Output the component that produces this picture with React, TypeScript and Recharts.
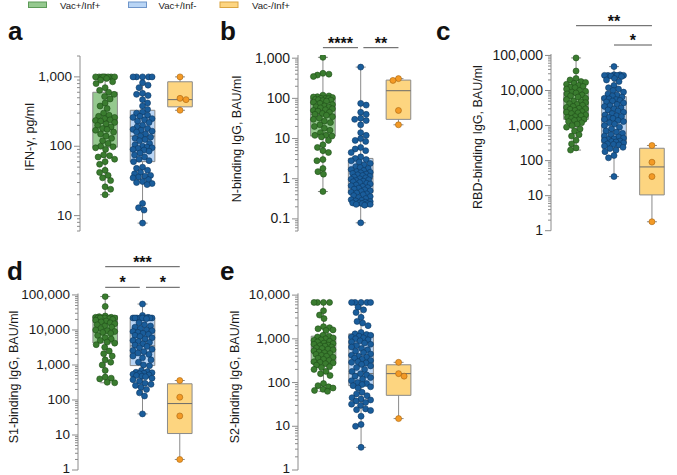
import React from 'react';
import { ComposedChart, XAxis, YAxis, Scatter, ReferenceArea, ReferenceLine } from 'recharts';

const W = 677;
const H = 475;
const FONT = "'Liberation Sans', Arial, Helvetica, sans-serif";
const AX = '#8c8c8c';

const groupNames = ['Vac+/Inf+', 'Vac+/Inf-', 'Vac-/Inf+'];
const dotFill = ['#3a7c2f', '#1a5d9b', '#f39a26'];
const dotStroke = ['#1f4d18', '#0d3762', '#a8650f'];
const boxFill = ['#95c98f', '#b9d5f5', '#fdd580'];
const legendStroke = ['#5d9a58', '#6f95c9', '#d9a441'];

// ---- a: IFN-gamma ----
const ifnGreen = [1000, 1000, 1000, 1000, 1000, 1000, 1000, 1000, 950, 900, 850, 800, 700, 640, 600, 560, 520, 480, 420, 380, 350, 300, 280, 270, 260, 250, 240, 235, 230, 220, 210, 200, 190, 180, 175, 170, 160, 150, 140, 130, 120, 110, 100, 98, 95, 90, 75, 73, 70, 65, 60, 55, 45, 42, 38, 35, 32, 26, 24, 20];
const ifnBlue = [1000, 1000, 1000, 1000, 1000, 820, 760, 700, 580, 560, 540, 470, 420, 380, 340, 310, 300, 280, 270, 260, 250, 240, 230, 220, 200, 190, 180, 175, 170, 165, 160, 150, 140, 135, 130, 125, 120, 110, 105, 100, 97, 95, 93, 90, 88, 85, 80, 75, 70, 65, 62, 60, 50, 48, 45, 42, 40, 38, 37, 36, 35, 33, 31, 30, 29, 28, 15, 13, 12, 7.8];
const ifnOrange = [1000, 490, 470, 330];
// [min, q1, median, q3, max]
const ifnBox = [[20, 97, 234, 600, 1000], [7.8, 60, 140, 330, 1000], [330, 370, 470, 850, 1000]];

// ---- b: N-binding IgG ----
const nGreen = [1050, 420, 400, 380, 350, 120, 115, 110, 108, 105, 100, 100, 98, 95, 92, 90, 88, 85, 80, 75, 70, 65, 62, 60, 58, 55, 52, 50, 48, 45, 42, 40, 38, 35, 32, 30, 27, 25, 22, 20, 18, 16, 14, 12, 12, 11.5, 11, 9, 7, 6, 5, 4.5, 3, 2.8, 1.8, 1.5, 1.3, 0.48];
const nBlue = [600, 75, 68, 45, 40, 32, 30, 28, 22, 14, 12, 10, 9, 8.5, 6, 5.5, 5, 4.5, 3.5, 3.2, 3, 2.8, 2.6, 2.4, 2.2, 2, 1.9, 1.8, 1.7, 1.6, 1.5, 1.45, 1.4, 1.35, 1.3, 1.25, 1.2, 1.15, 1.1, 1.05, 1.0, 0.97, 0.94, 0.9, 0.87, 0.84, 0.8, 0.77, 0.74, 0.7, 0.67, 0.64, 0.6, 0.58, 0.55, 0.53, 0.5, 0.48, 0.46, 0.44, 0.42, 0.4, 0.38, 0.36, 0.34, 0.32, 0.3, 0.29, 0.28, 0.27, 0.26, 0.25, 0.25, 0.24, 0.24, 0.23, 0.23, 0.22, 0.08];
const nOrange = [310, 280, 50, 22];
const nBox = [[0.48, 11.5, 40, 100, 1050], [0.08, 0.45, 1.0, 3.2, 600], [22, 30, 155, 285, 310]];

// ---- c: RBD-binding IgG ----
const rbdGreen = [85000, 36000, 22000, 20000, 18000, 17000, 16000, 15000, 14000, 13000, 12500, 12000, 11000, 10000, 9500, 9000, 8500, 8000, 7500, 7000, 6500, 6000, 5500, 5000, 4800, 4500, 4200, 4000, 3800, 3500, 3300, 3100, 3000, 2900, 2700, 2500, 2400, 2300, 2200, 2000, 1900, 1800, 1700, 1600, 1500, 1450, 1400, 1300, 1200, 1100, 1000, 900, 800, 700, 550, 500, 380, 300, 230, 200];
const rbdBlue = [48000, 28000, 28000, 27000, 27000, 27000, 27000, 26000, 25000, 22000, 20000, 18000, 14000, 12000, 11000, 10000, 9000, 8000, 7500, 7000, 6500, 6000, 5800, 5500, 5200, 5000, 4700, 4400, 4000, 3700, 3500, 3200, 3000, 2800, 2600, 2400, 2200, 2000, 1900, 1800, 1700, 1600, 1500, 1400, 1300, 1200, 1100, 1000, 900, 800, 700, 650, 600, 550, 500, 470, 440, 420, 400, 380, 360, 350, 340, 320, 300, 290, 280, 260, 240, 220, 200, 180, 140, 120, 35];
const rbdOrange = [270, 90, 35, 1.8];
const rbdBox = [[200, 1500, 3100, 9000, 85000], [35, 320, 1450, 6700, 48000], [1.8, 10.5, 66, 225, 270]];

// ---- d: S1-binding IgG ----
const s1Green = [90000, 47000, 25000, 24000, 23000, 23000, 22000, 22000, 22000, 22000, 22000, 22000, 21000, 20000, 19000, 18000, 17000, 16000, 15000, 14000, 13000, 12000, 11000, 10000, 9500, 9000, 8500, 8000, 7000, 6000, 5500, 5000, 4500, 4200, 3800, 3200, 2500, 2100, 1800, 1400, 1200, 1000, 700, 450, 420, 400, 320, 310];
const s1Blue = [55000, 26000, 23000, 22000, 22000, 22000, 22000, 22000, 22000, 22000, 22000, 21000, 16000, 14000, 13000, 12000, 11000, 10000, 9500, 9000, 8500, 8000, 7500, 7000, 6500, 6000, 5500, 5000, 4700, 4400, 4000, 3700, 3400, 3100, 2800, 2600, 2400, 2200, 2000, 1800, 1600, 1400, 1200, 1000, 950, 700, 650, 620, 600, 580, 560, 540, 520, 500, 480, 460, 420, 380, 340, 300, 280, 260, 230, 200, 160, 130, 40];
const s1Orange = [360, 120, 35, 2];
const s1Box = [[310, 4250, 17000, 25700, 90000], [40, 960, 3500, 22000, 55000], [2, 11, 79, 290, 360]];

// ---- e: S2-binding IgG ----
const s2Green = [6800, 6800, 6800, 6800, 4400, 3500, 2900, 1900, 1800, 1700, 1600, 1550, 1200, 1150, 1100, 1050, 1000, 950, 920, 880, 850, 800, 780, 750, 720, 700, 680, 650, 620, 600, 580, 560, 530, 500, 480, 460, 440, 420, 400, 380, 360, 340, 320, 300, 290, 280, 270, 250, 230, 220, 200, 180, 160, 145, 95, 85, 80, 75, 70, 66, 63];
const s2Blue = [6800, 6800, 6800, 6800, 6800, 5300, 4600, 4000, 3100, 2500, 2300, 2000, 1400, 1300, 1250, 1200, 1150, 1100, 1050, 1000, 950, 900, 850, 800, 750, 700, 650, 600, 560, 520, 480, 450, 420, 400, 380, 360, 340, 320, 300, 290, 280, 260, 240, 220, 200, 180, 160, 150, 140, 130, 120, 110, 100, 95, 90, 85, 80, 75, 60, 55, 50, 45, 42, 40, 38, 35, 32, 30, 25, 24, 23, 17, 11, 10, 3.3];
const s2Orange = [290, 160, 140, 15];
const s2Box = [[63, 270, 620, 1150, 6800], [3.3, 85, 160, 1300, 6800], [15, 51, 160, 255, 290]];

type PanelCfg = {
  key: string;
  letter: string;
  letterX: number;
  letterY: number;
  label: string;
  labelX: number;
  labelY: number;
  axisX: number;
  right: number;
  top: number;
  bottom: number;
  domain: [number, number];
  xDomain: [number, number];
  fs: number;
  series: number[][];
  box: number[][];
  sig: { from: number; to: number; y: number; text: string; gl: number; gr: number }[];
};

const panels: PanelCfg[] = [
  { key: 'a', letter: 'a', letterX: 8, letterY: 40, label: 'IFN-γ, pg/ml', labelX: 30, labelY: 137, axisX: 80, right: 204, top: 56, bottom: 231, domain: [6, 2000], xDomain: [0.33, 3.64], fs: 13.5, series: [ifnGreen, ifnBlue, ifnOrange], box: ifnBox, sig: [] },
  { key: 'b', letter: 'b', letterX: 220, letterY: 40, label: 'N-binding IgG, BAU/ml', labelX: 236.5, labelY: 139, axisX: 298, right: 423, top: 55, bottom: 231, domain: [0.05, 1200], xDomain: [0.34, 3.65], fs: 14, series: [nGreen, nBlue, nOrange], box: nBox,
    sig: [ { from: 1, to: 2, y: 47.7, text: '****', gl: 0, gr: 2.7 }, { from: 2, to: 3, y: 47.7, text: '**', gl: 2.7, gr: 0 } ] },
  { key: 'c', letter: 'c', letterX: 436, letterY: 40, label: 'RBD-binding IgG, BAU/ml', labelX: 478, labelY: 137, axisX: 551, right: 677, top: 54, bottom: 230.7, domain: [1, 110000], xDomain: [0.34, 3.66], fs: 14, series: [rbdGreen, rbdBlue, rbdOrange], box: rbdBox,
    sig: [ { from: 1, to: 3, y: 25.7, text: '**', gl: 0, gr: 0 }, { from: 2, to: 3, y: 45, text: '*', gl: 0, gr: 0 } ] },
  { key: 'd', letter: 'd', letterX: 7, letterY: 280, label: 'S1-binding IgG, BAU/ml', labelX: 14, labelY: 377, axisX: 78, right: 204, top: 293.5, bottom: 470, domain: [1, 110000], xDomain: [0.27, 3.65], fs: 13.5, series: [s1Green, s1Blue, s1Orange], box: s1Box,
    sig: [ { from: 1, to: 3, y: 266.7, text: '***', gl: 0, gr: 0 }, { from: 1, to: 2, y: 287.3, text: '*', gl: 0, gr: 2.7 }, { from: 2, to: 3, y: 287.3, text: '*', gl: 3.5, gr: 0 } ] },
  { key: 'e', letter: 'e', letterX: 220, letterY: 280, label: 'S2-binding IgG, BAU/ml', labelX: 235, labelY: 377, axisX: 298, right: 423, top: 293.3, bottom: 470, domain: [1, 11000], xDomain: [0.32, 3.65], fs: 13.5, series: [s2Green, s2Blue, s2Orange], box: s2Box, sig: [] },
];

const R = 3.0;
const SWARM_HALF_PX = 9.5;
const BOX_HALF_PX = 12.3;
const CAP_HALF_PX = 5;
const YW = 60;

function isMajor(v: number) {
  const l = Math.log10(v);
  return Math.abs(l - Math.round(l)) < 1e-6;
}

function makeTicks(domain: [number, number]) {
  const out: number[] = [];
  const d0 = Math.floor(Math.log10(domain[0]));
  const d1 = Math.ceil(Math.log10(domain[1]));
  for (let d = d0; d <= d1; d++) {
    for (let k = 1; k <= 9; k++) {
      const v = parseFloat((k * Math.pow(10, d)).toPrecision(6));
      if (v >= domain[0] * 0.9999 && v <= domain[1] * 1.0001) out.push(v);
    }
  }
  return out;
}

function fmt(v: number) {
  if (v < 1) return String(v);
  return Math.round(v).toLocaleString('en-US');
}

function swarm(values: number[], yPx: (v: number) => number, r: number, maxHalf: number): number[] {
  const idx = values.map((_, i) => i).sort((a, b) => values[b] - values[a]);
  const placed: { x: number; y: number }[] = [];
  const offs = new Array(values.length).fill(0);
  const d = 2 * r * 0.95;
  const step = 0.5;
  idx.forEach((i, n) => {
    const y = yPx(values[i]);
    let best = 0;
    let bestScore = -Infinity;
    let found = false;
    const kmax = Math.ceil(maxHalf / step);
    for (let k = 0; k <= kmax && !found; k++) {
      const sides = k === 0 ? [1] : n % 2 === 0 ? [1, -1] : [-1, 1];
      for (const s of sides) {
        const x = s * k * step;
        let minD = Infinity;
        for (const p of placed) {
          if (Math.abs(p.y - y) >= d) continue;
          const dd = Math.hypot(p.x - x, p.y - y);
          if (dd < minD) minD = dd;
        }
        if (minD >= d) {
          best = x;
          found = true;
          break;
        }
        if (minD > bestScore + 0.01) {
          bestScore = minD;
          best = x;
        }
      }
    }
    placed.push({ x: best, y });
    offs[i] = best;
  });
  return offs;
}

const LogTick = (props: any) => {
  const { y, payload, axisX, fs } = props;
  const v = payload.value;
  const major = isMajor(v);
  const ty = y > H - 8 ? y - 2 : y - 0.5;
  return (
    <g>
      <line x1={axisX - (major ? 6 : 3)} x2={axisX} y1={y} y2={y} stroke={AX} strokeWidth={1} />
      {major && (
        <text x={axisX - 8} y={ty} textAnchor="end" dominantBaseline="central" fontSize={fs} fontFamily={FONT} fill="#1a1a1a">
          {fmt(v)}
        </text>
      )}
    </g>
  );
};

function Panel({ cfg }: { cfg: PanelCfg }) {
  const { axisX, right, top, bottom, domain, xDomain } = cfg;
  const l0 = Math.log10(domain[0]);
  const l1 = Math.log10(domain[1]);
  const yPx = (v: number) => bottom - ((Math.log10(v) - l0) / (l1 - l0)) * (bottom - top);
  const pxPerX = (right - axisX) / (xDomain[1] - xDomain[0]);
  const hw = BOX_HALF_PX / pxPerX;
  const cw = CAP_HALF_PX / pxPerX;
  const ticks = makeTicks(domain);

  const scatterData = cfg.series.map((vals, g) => {
    const offs = swarm(vals, yPx, R, SWARM_HALF_PX);
    return vals.map((v, i) => ({ x: g + 1 + offs[i] / pxPerX, y: v }));
  });

  const boxes = cfg.box.map((b, g) => {
    const cx = g + 1;
    const [mn, q1, med, q3, mx] = b;
    return { cx, mn, q1, med, q3, mx };
  });

  return (
    <div style={{ position: 'absolute', left: 0, top: 0 }}>
      <ComposedChart width={W} height={H} margin={{ left: axisX - YW, top, right: W - right, bottom: H - bottom }}>
        <XAxis type="number" dataKey="x" domain={xDomain} allowDataOverflow tick={false} tickLine={false} height={0} axisLine={{ stroke: AX, strokeWidth: 1 }} />
        <YAxis
          type="number"
          dataKey="y"
          scale="log"
          domain={domain}
          allowDataOverflow
          ticks={ticks}
          interval={0}
          width={YW}
          tickSize={6}
          tickMargin={2}
          tickLine={false}
          axisLine={{ stroke: AX, strokeWidth: 1 }}
          tick={<LogTick axisX={axisX} fs={cfg.fs} />}
        />
        {boxes.map((b, g) => (
          <ReferenceArea key={'box' + g} x1={b.cx - hw} x2={b.cx + hw} y1={b.q1} y2={b.q3} fill={boxFill[g]} fillOpacity={1} stroke="#8a8a8a" strokeWidth={1} ifOverflow="visible" />
        ))}
        {boxes.map((b, g) => (
          <ReferenceLine key={'wl' + g} segment={[{ x: b.cx, y: b.mn }, { x: b.cx, y: b.q1 }]} stroke="#8a8a8a" strokeWidth={1} ifOverflow="visible" />
        ))}
        {boxes.map((b, g) => (
          <ReferenceLine key={'wh' + g} segment={[{ x: b.cx, y: b.q3 }, { x: b.cx, y: b.mx }]} stroke="#8a8a8a" strokeWidth={1} ifOverflow="visible" />
        ))}
        {boxes.map((b, g) => (
          <ReferenceLine key={'cl' + g} segment={[{ x: b.cx - cw, y: b.mn }, { x: b.cx + cw, y: b.mn }]} stroke="#8a8a8a" strokeWidth={1} ifOverflow="visible" />
        ))}
        {boxes.map((b, g) => (
          <ReferenceLine key={'ch' + g} segment={[{ x: b.cx - cw, y: b.mx }, { x: b.cx + cw, y: b.mx }]} stroke="#8a8a8a" strokeWidth={1} ifOverflow="visible" />
        ))}
        {scatterData.map((d, g) => (
          <Scatter
            key={'sc' + g}
            name={groupNames[g]}
            data={d}
            isAnimationActive={false}
            shape={(p: any) => <circle cx={p.cx} cy={p.cy} r={R} fill={dotFill[g]} stroke={dotStroke[g]} strokeWidth={0.6} />}
          />
        ))}
        {boxes.map((b, g) => (
          <ReferenceLine key={'md' + g} segment={[{ x: b.cx - hw, y: b.med }, { x: b.cx + hw, y: b.med }]} stroke="#6a6a6a" strokeWidth={1} ifOverflow="visible" />
        ))}
      </ComposedChart>
    </div>
  );
}

function Overlay() {
  return (
    <svg width={W} height={H} style={{ position: 'absolute', left: 0, top: 0, pointerEvents: 'none' }}>
      {groupNames.map((n, g) => {
        const sx = [28.5, 128.5, 220][g];
        const tx = [60, 158.5, 252][g];
        return (
          <g key={n}>
            <rect x={sx} y={2} width={18} height={5.5} fill={boxFill[g]} stroke={legendStroke[g]} strokeWidth={1} />
            <text x={tx} y={8.6} fontSize={9.6} fontFamily={FONT} fill="#1a1a1a">{n}</text>
          </g>
        );
      })}
      {panels.map((p) => {
        const pxPerX = (p.right - p.axisX) / (p.xDomain[1] - p.xDomain[0]);
        const xPx = (v: number) => p.axisX + (v - p.xDomain[0]) * pxPerX;
        return (
          <g key={p.key}>
            <text x={p.letterX} y={p.letterY} fontSize={26} fontWeight="bold" fontFamily={FONT} fill="#111">{p.letter}</text>
            <text x={p.labelX} y={p.labelY} transform={`rotate(-90 ${p.labelX} ${p.labelY})`} textAnchor="middle" dominantBaseline="central" fontSize={12.5} fontFamily={FONT} fill="#1a1a1a">
              {p.label}
            </text>
            {p.sig.map((s, i) => {
              const x1 = xPx(s.from) + s.gl;
              const x2 = xPx(s.to) - s.gr;
              return (
                <g key={i}>
                  <line x1={x1} x2={x2} y1={s.y} y2={s.y} stroke="#555" strokeWidth={1} />
                  <text x={(x1 + x2) / 2} y={s.y + 1} textAnchor="middle" fontSize={16} fontWeight="bold" fontFamily={FONT} fill="#111">{s.text}</text>
                </g>
              );
            })}
          </g>
        );
      })}
    </svg>
  );
}

export default function App() {
  return (
    <div style={{ position: 'absolute', left: 0, top: 0, width: W, height: H, background: '#fff', overflow: 'hidden' }}>
      {panels.map((p) => (
        <Panel key={p.key} cfg={p} />
      ))}
      <Overlay />
    </div>
  );
}
